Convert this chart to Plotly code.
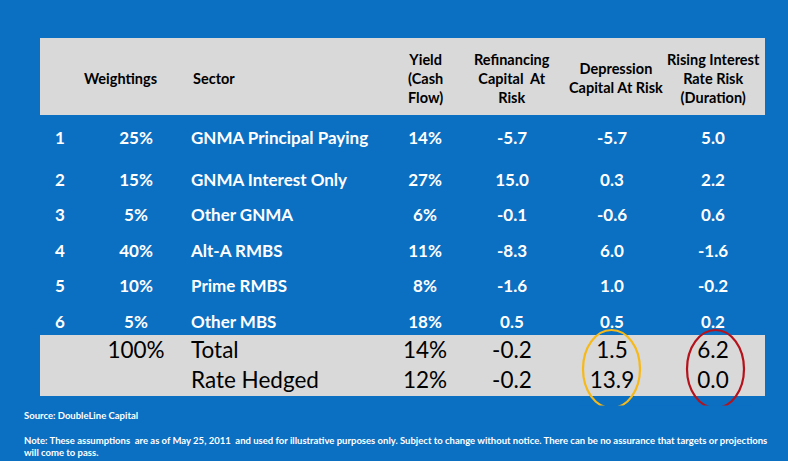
import plotly.graph_objects as go

# table data
row_ids = ["1", "2", "3", "4", "5", "6"]
weights = ["25%", "15%", "5%", "40%", "10%", "5%"]
sectors = ["GNMA Principal Paying", "GNMA Interest Only", "Other GNMA",
           "Alt-A RMBS", "Prime RMBS", "Other MBS"]
yields = ["14%", "27%", "6%", "11%", "8%", "18%"]
refi_risk = ["-5.7", "15.0", "-0.1", "-8.3", "-1.6", "0.5"]
depr_risk = ["-5.7", "0.3", "-0.6", "6.0", "1.0", "0.5"]
rate_risk = ["5.0", "2.2", "0.6", "-1.6", "-0.2", "0.2"]

total_labels = ["Total", "Rate Hedged"]
total_weights = ["100%", ""]
total_yields = ["14%", "12%"]
total_refi = ["-0.2", "-0.2"]
total_depr = ["1.5", "13.9"]
total_rate = ["6.2", "0.0"]

headers = ["Weightings", "Sector", "Yield<br>(Cash<br>Flow)",
           "Refinancing<br>Capital  At<br>Risk", "Depression<br>Capital At Risk",
           "Rising Interest<br>Rate Risk<br>(Duration)"]

source_text = "Source: DoubleLine Capital"
note_text = ("Note: These assumptions  are as of May 25, 2011  and used for illustrative purposes only. "
             "Subject to change without notice. There can be no assurance that targets or projections<br>"
             "will come to pass.")

# layout (pixel coordinates of the 788x461 canvas)
W, H = 788, 461
BLUE = "#0B6FC2"
GRAY = "#D9D9D9"
FONT = "Lato"
col_x = [60, 136, 191, 425, 512, 612, 713]
row_y = [140, 182, 217, 253, 288, 324]
total_y = [352, 382]

fig = go.Figure()

body_cols = [row_ids, weights, sectors, yields, refi_risk, depr_risk, rate_risk]
for i, col in enumerate(body_cols):
    fig.add_trace(go.Scatter(
        x=[col_x[i]] * len(col), y=row_y, text=col, mode="text",
        textposition="middle right" if i == 2 else "middle center",
        textfont=dict(family=FONT, size=17, color="white", weight="bold"),
        hoverinfo="skip", showlegend=False,
    ))

total_cols = [total_weights, total_labels, total_yields, total_refi, total_depr, total_rate]
for i, col in enumerate(total_cols):
    fig.add_trace(go.Scatter(
        x=[col_x[i + 1]] * len(col), y=total_y, text=col, mode="text",
        textposition="middle right" if i == 1 else "middle center",
        textfont=dict(family=FONT, size=22.5, color="black"),
        hoverinfo="skip", showlegend=False,
    ))

shapes = [
    dict(type="rect", x0=40, x1=765, y0=38, y1=115, fillcolor=GRAY, line_width=0, layer="below"),
    dict(type="rect", x0=40, x1=765, y0=335, y1=396, fillcolor=GRAY, line_width=0, layer="below"),
    dict(type="circle", x0=583, x1=640, y0=330, y1=408, line=dict(color="#F7B918", width=2.2)),
    dict(type="circle", x0=687, x1=744, y0=330, y1=408, line=dict(color="#B5121B", width=2.2)),
    dict(type="rect", x0=580, x1=750, y0=405.5, y1=410, fillcolor=BLUE, line_width=0),
]

annotations = []
head_x = [120, 191, 425, 512, 616, 713]
for i, h in enumerate(headers):
    annotations.append(dict(
        x=head_x[i], y=78, text=h, showarrow=False,
        xanchor="left" if i == 1 else "center", yanchor="middle", align="center",
        font=dict(family=FONT, size=14.5, color="black", weight="bold"),
    ))
annotations.append(dict(x=22, y=415, text=source_text, showarrow=False,
                        xanchor="left", yanchor="middle",
                        font=dict(family=FONT, size=9.5, color="white", weight="bold")))
annotations.append(dict(x=22, y=446, text=note_text, showarrow=False,
                        xanchor="left", yanchor="middle", align="left",
                        font=dict(family=FONT, size=9.5, color="white", weight="bold")))

fig.update_layout(
    width=W, height=H,
    margin=dict(l=0, r=0, t=0, b=0),
    paper_bgcolor=BLUE, plot_bgcolor=BLUE,
    xaxis=dict(range=[0, W], visible=False, fixedrange=True),
    yaxis=dict(range=[H, 0], visible=False, fixedrange=True),
    shapes=shapes, annotations=annotations,
)

fig.write_html("out.html", config={"displayModeBar": False},
               post_script="document.body.style.margin='0';document.body.style.overflow='hidden';")
